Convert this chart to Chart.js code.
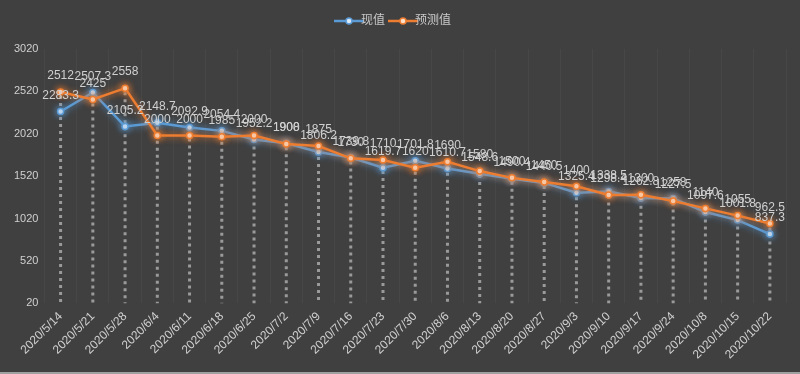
<!DOCTYPE html>
<html>
<head>
<meta charset="utf-8">
<script src="https://cdn.jsdelivr.net/npm/chart.js@4/dist/chart.umd.min.js"></script>
<style>
  html, body { margin: 0; padding: 0; background: #404040; }
  #wrap { width: 800px; height: 374px; border-bottom: 2px solid #a0a0a0; box-sizing: border-box; }
</style>
</head>
<body>
<div id="wrap"><canvas id="chart" width="800" height="372"></canvas></div>
<script>
// data
const dates = ['2020/5/14', '2020/5/21', '2020/5/28', '2020/6/4', '2020/6/11', '2020/6/18', '2020/6/25',
  '2020/7/2', '2020/7/9', '2020/7/16', '2020/7/23', '2020/7/30', '2020/8/6', '2020/8/13', '2020/8/20',
  '2020/8/27', '2020/9/3', '2020/9/10', '2020/9/17', '2020/9/24', '2020/10/8', '2020/10/15', '2020/10/22']
const actual = [2283.3, 2507.3, 2105.2, 2148.7, 2092.9, 2054.4, 1952.2, 1908, 1806.2, 1739.8, 1619.7, 1701.8,
  1610.7, 1548.6, 1490.4, 1440.5, 1325.4, 1338.5, 1262.8, 1258, 1097.6, 1001.8, 837.3]
const forecast = [2512, 2425, 2558, 2000, 2000, 1985, 2000, 1900, 1875, 1730, 1710, 1620,
  1690, 1580, 1500, 1450, 1400, 1298.4, 1300, 1227.5, 1140, 1055, 962.5]
const yTicks = [20, 520, 1020, 1520, 2020, 2520, 3020]

const blue = '#5b9bd5'
const orange = '#ed7d31'
const textColor = '#d0d0d0'
const font = '"Liberation Sans", "Noto Sans CJK SC", sans-serif'

// little line+dot swatch for the legend
function swatch(color, fill) {
  const c = document.createElement('canvas')
  c.width = 32; c.height = 10
  const g = c.getContext('2d')
  g.strokeStyle = color; g.lineWidth = 2.5
  g.beginPath(); g.moveTo(1, 5); g.lineTo(31, 5); g.stroke()
  g.fillStyle = fill; g.strokeStyle = color; g.lineWidth = 1.5
  g.beginPath(); g.arc(16, 5, 3, 0, Math.PI * 2); g.fill(); g.stroke()
  return c
}

// more room under the legend
const legendGap = {
  id: 'legendGap',
  beforeInit(chart) {
    const fit = chart.legend.fit
    chart.legend.fit = function () {
      fit.bind(chart.legend)()
      this.height += 12
    }
  }
}

// gray dotted drop lines from the highest point to the axis
const dropLines = {
  id: 'dropLines',
  beforeDatasetsDraw(chart) {
    const ctx = chart.ctx
    const area = chart.chartArea
    const m0 = chart.getDatasetMeta(0), m1 = chart.getDatasetMeta(1)
    ctx.save()
    ctx.strokeStyle = '#9a9a9a'
    ctx.lineWidth = 3
    ctx.setLineDash([3, 4])
    m0.data.forEach((p, i) => {
      const top = Math.min(p.y, m1.data[i].y)
      ctx.beginPath()
      ctx.moveTo(p.x, top + 4)
      ctx.lineTo(p.x, area.bottom)
      ctx.stroke()
    })
    ctx.restore()
  }
}

// soft glow round the lines
const glow = {
  id: 'glow',
  beforeDatasetDraw(chart, args) {
    const ctx = chart.ctx
    ctx.save()
    ctx.shadowColor = args.meta.dataset.options.borderColor
    ctx.shadowBlur = 7
  },
  afterDatasetDraw(chart) {
    chart.ctx.restore()
  }
}

// value labels above each point
const valueLabels = {
  id: 'valueLabels',
  afterDatasetsDraw(chart) {
    const ctx = chart.ctx
    ctx.save()
    ctx.font = '12px ' + font
    ctx.fillStyle = textColor
    ctx.textAlign = 'center'
    ctx.textBaseline = 'bottom'
    chart.data.datasets.forEach((ds, di) => {
      chart.getDatasetMeta(di).data.forEach((p, i) => {
        ctx.fillText(String(ds.data[i]), p.x, p.y - 10)
      })
    })
    ctx.restore()
  }
}

new Chart('chart', {
  type: 'line',
  data: {
    labels: dates,
    datasets: [{
      label: '现值',
      data: actual,
      borderColor: blue,
      backgroundColor: blue,
      borderWidth: 2.5,
      pointRadius: 3,
      pointBorderWidth: 1.5,
      pointBackgroundColor: '#dce9f6',
      pointBorderColor: blue,
      pointStyle: 'circle',
      tension: 0,
      order: 1
    }, {
      label: '预测值',
      data: forecast,
      borderColor: orange,
      backgroundColor: orange,
      borderWidth: 2.5,
      pointRadius: 3,
      pointBorderWidth: 1.5,
      pointBackgroundColor: '#fbe0cc',
      pointBorderColor: orange,
      pointStyle: 'circle',
      tension: 0,
      order: 0
    }]
  },
  options: {
    responsive: false,
    animation: false,
    devicePixelRatio: 1,
    layout: { padding: { left: 8, right: 14, top: 3, bottom: 4 } },
    plugins: {
      legend: {
        position: 'top',
        labels: {
          color: '#c8c8c8',
          font: { family: font, size: 12 },
          usePointStyle: true,
          boxHeight: 10,
          padding: 12,
          generateLabels(chart) {
            return chart.data.datasets.map((ds, i) => ({
              text: ds.label,
              fontColor: '#c8c8c8',
              pointStyle: swatch(ds.borderColor, ds.pointBackgroundColor),
              datasetIndex: i,
              hidden: false,
              lineWidth: 0
            }))
          }
        }
      },
      tooltip: { enabled: false }
    },
    scales: {
      x: {
        offset: true,
        afterFit(scale) {
          // rotated first label may hang left past the axis, like in the original
          scale.paddingLeft = 0
          scale.paddingRight = 0
        },
        grid: { display: true, color: 'rgba(255,255,255,0.04)', drawTicks: false, offset: true },
        border: { display: false },
        ticks: {
          color: textColor,
          font: { family: font, size: 12 },
          maxRotation: 45,
          minRotation: 45,
          autoSkip: false,
          padding: 6
        }
      },
      y: {
        min: 20,
        max: 3020,
        afterBuildTicks(scale) {
          scale.ticks = yTicks.map(v => ({ value: v }))
        },
        grid: { display: false, drawTicks: false },
        border: { display: false },
        ticks: {
          color: textColor,
          font: { family: font, size: 11 },
          padding: 6,
          callback: v => String(v)
        }
      }
    }
  },
  plugins: [legendGap, dropLines, glow, valueLabels]
})
</script>
</body>
</html>
